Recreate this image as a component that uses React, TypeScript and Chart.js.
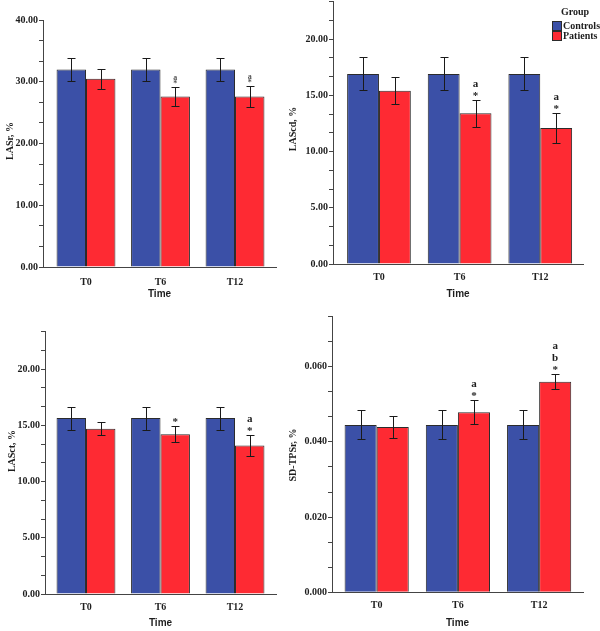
import React, { useEffect, useRef } from 'react';
import { Chart, registerables } from 'chart.js';

Chart.register(...registerables);

// ---------- data ----------
const timePoints = ['T0', 'T6', 'T12'];
const groupTitle = 'Group';
const groupNames = ['Controls', 'Patients'];
const xAxisTitle = 'Time';

// Panel: LASr
const lasrControls = [32.0, 32.0, 32.0];
const lasrControlsHigh = [33.8, 33.8, 33.8];
const lasrControlsLow = [30.2, 30.2, 30.2];
const lasrPatients = [30.5, 27.6, 27.6];
const lasrPatientsHigh = [32.0, 29.1, 29.3];
const lasrPatientsLow = [28.9, 26.1, 25.9];
const lasrMarks = [[], ['a', '*'], ['a', '*']];
const lasrMajorTicks = [0, 10, 20, 30, 40];

// Panel: LAScd
const lascdControls = [16.9, 16.9, 16.9];
const lascdControlsHigh = [18.4, 18.4, 18.4];
const lascdControlsLow = [15.5, 15.5, 15.5];
const lascdPatients = [15.4, 13.4, 12.1];
const lascdPatientsHigh = [16.65, 14.6, 13.4];
const lascdPatientsLow = [14.2, 12.2, 10.8];
const lascdMarks = [[], ['a', '*'], ['a', '*']];
const lascdMajorTicks = [0, 5, 10, 15, 20];

// Panel: LASct
const lasctControls = [15.65, 15.65, 15.65];
const lasctControlsHigh = [16.65, 16.65, 16.65];
const lasctControlsLow = [14.6, 14.6, 14.6];
const lasctPatients = [14.7, 14.2, 13.2];
const lasctPatientsHigh = [15.3, 14.9, 14.15];
const lasctPatientsLow = [14.1, 13.5, 12.25];
const lasctMarks = [[], ['*'], ['a', '*']];
const lasctMajorTicks = [0, 5, 10, 15, 20];

// Panel: SD-TPSr
const sdControls = [0.0445, 0.0445, 0.0445];
const sdControlsHigh = [0.0485, 0.0485, 0.0485];
const sdControlsLow = [0.0409, 0.0409, 0.0409];
const sdPatients = [0.044, 0.0479, 0.056];
const sdPatientsHigh = [0.0468, 0.0511, 0.0581];
const sdPatientsLow = [0.0411, 0.0448, 0.054];
const sdMarks = [[], ['a', '*'], ['a', 'b', '*']];
const sdMajorTicks = [0, 0.02, 0.04, 0.06];

// ---------- style ----------
const BLUE = '#3B50A7';
const RED = '#FE2A33';
const EDGE = '#2b2b2b';
const AXIS = '#444444';
const TEXT = '#1e1e1e';
const SERIF = "'Liberation Serif', 'Times New Roman', serif";
const SANS = "'Liberation Sans', Arial, sans-serif";

type PanelCfg = {
  yTitle: string;
  controls: number[]; controlsHigh: number[]; controlsLow: number[];
  patients: number[]; patientsHigh: number[]; patientsLow: number[];
  marks: string[][];
  majorTicks: number[];
  extraMinor: number;
  decimals: number;
  left: number; top: number; width: number; height: number;
  yWidth: number; xHeight: number; padTop: number; padRight: number;
  yTitleX: number; yTitleY: number; xTitlePad: number; xTickPad: number;
  markSize: number; markStep: number; markColor: string;
  legend: boolean;
  xMin: number; xMax: number;
};

const panels: PanelCfg[] = [
  {
    yTitle: 'LASr, %',
    controls: lasrControls, controlsHigh: lasrControlsHigh, controlsLow: lasrControlsLow,
    patients: lasrPatients, patientsHigh: lasrPatientsHigh, patientsLow: lasrPatientsLow,
    marks: lasrMarks, majorTicks: lasrMajorTicks, extraMinor: 0, decimals: 2,
    left: 0, top: 0, width: 285, height: 300,
    yWidth: 43, xHeight: 33, padTop: 20, padRight: 9,
    yTitleX: 10, yTitleY: 141, xTitlePad: 0, xTickPad: 9,
    markSize: 8, markStep: 6, markColor: '#555555', legend: false,
    xMin: -0.577, xMax: 2.55,
  },
  {
    yTitle: 'LAScd, %',
    controls: lascdControls, controlsHigh: lascdControlsHigh, controlsLow: lascdControlsLow,
    patients: lascdPatients, patientsHigh: lascdPatientsHigh, patientsLow: lascdPatientsLow,
    marks: lascdMarks, majorTicks: lascdMajorTicks, extraMinor: 2, decimals: 2,
    left: 285, top: 0, width: 315, height: 300,
    yWidth: 48, xHeight: 36, padTop: 1.5, padRight: 17,
    yTitleX: 8, yTitleY: 129, xTitlePad: 0, xTickPad: 7,
    markSize: 11, markStep: 12, markColor: TEXT, legend: true,
    xMin: -0.57, xMax: 2.53,
  },
  {
    yTitle: 'LASct, %',
    controls: lasctControls, controlsHigh: lasctControlsHigh, controlsLow: lasctControlsLow,
    patients: lasctPatients, patientsHigh: lasctPatientsHigh, patientsLow: lasctPatientsLow,
    marks: lasctMarks, majorTicks: lasctMajorTicks, extraMinor: 2, decimals: 2,
    left: 0, top: 300, width: 285, height: 331,
    yWidth: 45, xHeight: 37, padTop: 31.5, padRight: 9,
    yTitleX: 12, yTitleY: 151, xTitlePad: 2, xTickPad: 7,
    markSize: 11, markStep: 12, markColor: TEXT, legend: false,
    xMin: -0.55, xMax: 2.55,
  },
  {
    yTitle: 'SD-TPSr, %',
    controls: sdControls, controlsHigh: sdControlsHigh, controlsLow: sdControlsLow,
    patients: sdPatients, patientsHigh: sdPatientsHigh, patientsLow: sdPatientsLow,
    marks: sdMarks, majorTicks: sdMajorTicks, extraMinor: 2, decimals: 3,
    left: 285, top: 300, width: 315, height: 331,
    yWidth: 47, xHeight: 38.7, padTop: 16.6, padRight: 17,
    yTitleX: 8, yTitleY: 155, xTitlePad: 2, xTickPad: 7,
    markSize: 11, markStep: 12, markColor: TEXT, legend: false,
    xMin: -0.55, xMax: 2.54,
  },
];

function makePlugins(cfg: PanelCfg) {
  const errorBars = {
    id: 'errorBars',
    afterDatasetsDraw(chart: any) {
      const ctx = chart.ctx;
      const yScale = chart.scales.y;
      const highs = [cfg.controlsHigh, cfg.patientsHigh];
      const lows = [cfg.controlsLow, cfg.patientsLow];
      ctx.save();
      ctx.strokeStyle = '#1a1a1a';
      ctx.lineWidth = 1;
      for (let d = 0; d < 2; d++) {
        const meta = chart.getDatasetMeta(d);
        meta.data.forEach((bar: any, i: number) => {
          const x = Math.round(bar.x) + 0.5;
          const yh = Math.round(yScale.getPixelForValue(highs[d][i])) + 0.5;
          const yl = Math.round(yScale.getPixelForValue(lows[d][i])) + 0.5;
          ctx.beginPath();
          ctx.moveTo(x, yh); ctx.lineTo(x, yl);
          ctx.moveTo(x - 4, yh); ctx.lineTo(x + 4, yh);
          ctx.moveTo(x - 4, yl); ctx.lineTo(x + 4, yl);
          ctx.stroke();
        });
      }
      // significance marks above patients' error bars
      const meta = chart.getDatasetMeta(1);
      ctx.fillStyle = cfg.markColor;
      ctx.font = `bold ${cfg.markSize}px ${SERIF}`;
      ctx.textAlign = 'center';
      ctx.textBaseline = 'alphabetic';
      meta.data.forEach((bar: any, i: number) => {
        const marks = cfg.marks[i];
        const cap = yScale.getPixelForValue(cfg.patientsHigh[i]);
        let base = cap - 1;
        for (let k = marks.length - 1; k >= 0; k--) {
          ctx.fillText(marks[k], bar.x, base);
          base -= cfg.markStep;
        }
      });
      ctx.restore();
    },
  };
  const yTitle = {
    id: 'yTitle',
    afterDraw(chart: any) {
      const ctx = chart.ctx;
      ctx.save();
      ctx.translate(cfg.yTitleX, cfg.yTitleY);
      ctx.rotate(-Math.PI / 2);
      ctx.fillStyle = TEXT;
      ctx.font = `bold 10px ${SERIF}`;
      ctx.textAlign = 'center';
      ctx.textBaseline = 'middle';
      ctx.fillText(cfg.yTitle, 0, 0);
      ctx.restore();
    },
  };
  const legend = {
    id: 'groupLegend',
    afterDraw(chart: any) {
      if (!cfg.legend) return;
      const ctx = chart.ctx;
      const w = chart.width;
      ctx.save();
      ctx.fillStyle = TEXT;
      ctx.font = `bold 10px ${SERIF}`;
      ctx.textAlign = 'center';
      ctx.textBaseline = 'middle';
      ctx.fillText(groupTitle, w - 25, 12);
      chart.data.datasets.forEach((ds: any, i: number) => {
        const y = 21 + i * 10;
        ctx.fillStyle = ds.backgroundColor;
        ctx.fillRect(w - 48, y, 10, 10);
        ctx.strokeStyle = EDGE;
        ctx.lineWidth = 1;
        ctx.strokeRect(w - 47.5, y + 0.5, 9, 9);
        ctx.fillStyle = TEXT;
        ctx.textAlign = 'left';
        ctx.fillText(ds.label, w - 37, y + 5.5);
      });
      ctx.restore();
    },
  };
  return [errorBars, yTitle, legend];
}

function Panel({ cfg }: { cfg: PanelCfg }) {
  const ref = useRef<HTMLCanvasElement | null>(null);
  useEffect(() => {
    if (!ref.current) return;
    const majorStep = cfg.majorTicks[1] - cfg.majorTicks[0];
    const minorStep = majorStep / 3;
    const nMinor = (cfg.majorTicks.length - 1) * 3 + cfg.extraMinor;
    const yMax = nMinor * minorStep;
    const toPoints = (vals: number[]) => vals.map((v, i) => ({ x: i, y: v }));
    const chart = new Chart(ref.current, {
      type: 'bar',
      data: {
        datasets: [
          {
            label: groupNames[0], data: toPoints(cfg.controls) as any,
            backgroundColor: BLUE, borderColor: EDGE, borderWidth: 1,
            categoryPercentage: 0.79, barPercentage: 1,
          },
          {
            label: groupNames[1], data: toPoints(cfg.patients) as any,
            backgroundColor: RED, borderColor: EDGE, borderWidth: 1,
            categoryPercentage: 0.79, barPercentage: 1,
          },
        ],
      },
      options: {
        animation: false,
        responsive: false,
        maintainAspectRatio: false,
        layout: { padding: { top: cfg.padTop, right: cfg.padRight, left: 0, bottom: 0 } },
        plugins: { legend: { display: false }, tooltip: { enabled: false }, title: { display: false } },
        scales: {
          x: {
            type: 'linear',
            offset: false,
            min: cfg.xMin,
            max: cfg.xMax,
            afterBuildTicks: (s: any) => {
              s.ticks = timePoints.map((_, i) => ({ value: i }));
            },
            afterFit: (s: any) => {
              s.height = cfg.xHeight;
              s.paddingLeft = 0; s.paddingRight = 0;
            },
            grid: { display: false, drawTicks: false, offset: false },
            border: { display: true, color: AXIS, width: 1 },
            ticks: {
              autoSkip: false,
              maxRotation: 0,
              padding: cfg.xTickPad,
              color: TEXT,
              font: { family: SERIF, size: 10, weight: 'bold' },
              callback: (v: any) => timePoints[Math.round(Number(v))] ?? '',
            },
            title: {
              display: true,
              text: xAxisTitle,
              color: TEXT,
              font: { family: SANS, size: 10, weight: 'bold' },
              padding: { top: 0, bottom: cfg.xTitlePad },
            },
          },
          y: {
            type: 'linear',
            min: 0,
            max: yMax,
            afterBuildTicks: (s: any) => {
              s.ticks = Array.from({ length: nMinor + 1 }, (_, i) => ({ value: i * minorStep }));
            },
            afterFit: (s: any) => {
              s.width = cfg.yWidth;
              s.paddingTop = 0; s.paddingBottom = 0;
            },
            grid: { display: true, drawOnChartArea: false, drawTicks: true, tickLength: 4, color: AXIS },
            border: { display: true, color: AXIS, width: 1 },
            ticks: {
              padding: 1,
              color: TEXT,
              font: { family: SERIF, size: 10, weight: 'bold' },
              callback: (v: any) => {
                const n = Number(v);
                const isMajor = cfg.majorTicks.some((m) => Math.abs(m - n) < majorStep * 1e-4);
                return isMajor ? n.toFixed(cfg.decimals) : '';
              },
            },
            title: { display: false },
          },
        },
      } as any,
      plugins: makePlugins(cfg) as any,
    });
    return () => chart.destroy();
  }, [cfg]);
  return (
    <canvas
      ref={ref}
      width={cfg.width}
      height={cfg.height}
      style={{ position: 'absolute', left: cfg.left, top: cfg.top, width: cfg.width, height: cfg.height, display: 'block' }}
    />
  );
}

export default function App() {
  return (
    <div style={{ position: 'absolute', left: 0, top: 0, width: 600, height: 631, background: '#ffffff', overflow: 'hidden' }}>
      {panels.map((p, i) => (
        <Panel key={i} cfg={p} />
      ))}
    </div>
  );
}
